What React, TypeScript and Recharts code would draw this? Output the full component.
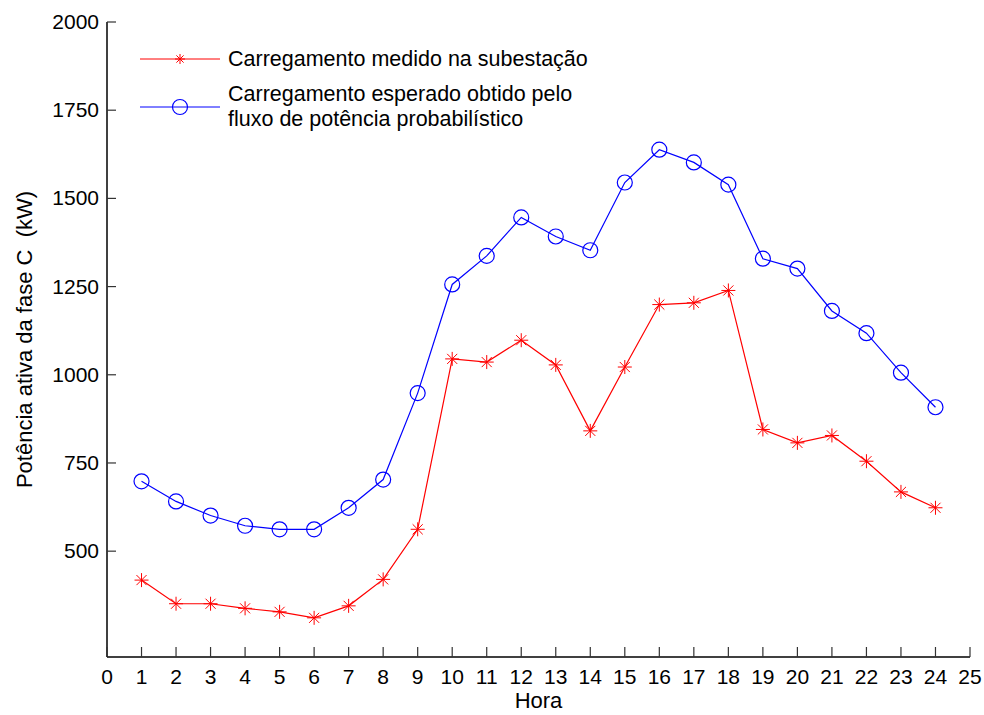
import React from "react";
import { LineChart, Line, XAxis, YAxis } from "recharts";

const horas = [1, 2, 3, 4, 5, 6, 7, 8, 9, 10, 11, 12, 13, 14, 15, 16, 17, 18, 19, 20, 21, 22, 23, 24];
const medido = [418, 351, 351, 338, 328, 311, 345, 420, 562, 1045, 1036, 1098, 1028, 841, 1022, 1199, 1204, 1239, 845, 807, 828, 755, 668, 623];
const esperado = [698, 641, 601, 572, 562, 562, 623, 703, 948, 1256, 1337, 1446, 1392, 1353, 1545, 1638, 1602, 1539, 1329, 1301, 1181, 1118, 1006, 908];
const xTicks = [0, 1, 2, 3, 4, 5, 6, 7, 8, 9, 10, 11, 12, 13, 14, 15, 16, 17, 18, 19, 20, 21, 22, 23, 24, 25];
const yTicks = [500, 750, 1000, 1250, 1500, 1750, 2000];

const labelMedido = "Carregamento medido na subestação";
const labelEsperado = ["Carregamento esperado obtido pelo", "fluxo de potência probabilístico"];

const data = horas.map((h, i) => ({ hora: h, medido: medido[i], esperado: esperado[i] }));

const FONT = "'Liberation Sans', Arial, sans-serif";
const RED = "#ff0000";
const BLUE = "#0000ff";

function Star({ cx, cy, size = 7 }: any) {
  if (cx == null || cy == null) return null;
  const d = size * 0.72;
  return (
    <g stroke={RED} strokeWidth={1}>
      <line x1={cx - size} y1={cy} x2={cx + size} y2={cy} />
      <line x1={cx} y1={cy - size} x2={cx} y2={cy + size} />
      <line x1={cx - d} y1={cy - d} x2={cx + d} y2={cy + d} />
      <line x1={cx - d} y1={cy + d} x2={cx + d} y2={cy - d} />
    </g>
  );
}

function Circle({ cx, cy }: any) {
  if (cx == null || cy == null) return null;
  return <circle cx={cx} cy={cy} r={7.5} fill="none" stroke={BLUE} strokeWidth={1.2} />;
}

// inward ticks, MATLAB style
function BottomTick({ x, y, payload }: any) {
  return (
    <g>
      <line x1={x} y1={y} x2={x} y2={y - 10} stroke="#333" strokeWidth={1.2} />
      <text x={x} y={y + 27} textAnchor="middle" fontSize={21} fontFamily={FONT} fill="#000">
        {payload.value}
      </text>
    </g>
  );
}

function TopTick({ x, y }: any) {
  return <line x1={x} y1={y} x2={x} y2={y + 10} stroke="#333" strokeWidth={1.2} />;
}

function LeftTick({ x, y, payload }: any) {
  return (
    <g>
      <line x1={x} y1={y} x2={x + 9} y2={y} stroke="#333" strokeWidth={1.2} />
      <text x={x - 8} y={y + 7} textAnchor="end" fontSize={21} fontFamily={FONT} fill="#000">
        {payload.value}
      </text>
    </g>
  );
}

function RightTick({ x, y }: any) {
  return <line x1={x} y1={y} x2={x - 9} y2={y} stroke="#333" strokeWidth={1.2} />;
}

function LegendBox() {
  const txt = { fontSize: 21.5, fontFamily: FONT, fill: "#000" };
  return (
    <svg width={520} height={95} style={{ display: "block" }}>
      <line x1={0} y1={15} x2={80} y2={15} stroke={RED} strokeWidth={1} />
      <Star cx={40} cy={15} size={5} />
      <text x={88} y={22} {...txt}>{labelMedido}</text>
      <line x1={0} y1={63} x2={80} y2={63} stroke={BLUE} strokeWidth={1} />
      <Circle cx={40} cy={63} />
      <text x={88} y={57} {...txt}>{labelEsperado[0]}</text>
      <text x={88} y={82} {...txt}>{labelEsperado[1]}</text>
    </svg>
  );
}

export default function App() {
  return (
    <div style={{ position: "absolute", left: 0, top: 0, width: 984, height: 715, background: "#fff" }}>
      <LineChart
        width={984}
        height={715}
        data={data}
        margin={{ top: 22, right: 14, bottom: 28, left: 47 }}
      >
        <XAxis
          dataKey="hora"
          type="number"
          domain={[0, 25]}
          ticks={xTicks}
          interval={0}
          height={30}
          tickSize={0}
          tickMargin={0}
          tickLine={false}
          axisLine={{ stroke: "#000", strokeWidth: 1.5 }}
          tick={<BottomTick />}
          label={{
            content: ({ viewBox }: any) => (
              <text
                x={viewBox.x + viewBox.width / 2}
                y={708}
                textAnchor="middle"
                fontSize={22}
                fontFamily={FONT}
                fill="#000"
              >
                Hora
              </text>
            ),
          }}
        />
        <XAxis
          xAxisId="top"
          orientation="top"
          dataKey="hora"
          type="number"
          domain={[0, 25]}
          ticks={xTicks}
          interval={0}
          height={0}
          tickSize={0}
          tickMargin={0}
          tickLine={false}
          axisLine={{ stroke: "#000", strokeWidth: 1.5 }}
          tick={<TopTick />}
        />
        <YAxis
          type="number"
          domain={[200, 2000]}
          ticks={yTicks}
          interval={0}
          width={60}
          tickSize={0}
          tickMargin={0}
          tickLine={false}
          axisLine={{ stroke: "#000", strokeWidth: 1.5 }}
          tick={<LeftTick />}
          label={{
            content: ({ viewBox }: any) => {
              const cy = viewBox.y + viewBox.height / 2;
              return (
                <text
                  x={32}
                  y={cy}
                  transform={`rotate(-90, 32, ${cy})`}
                  textAnchor="middle"
                  fontSize={22}
                  fontFamily={FONT}
                  fill="#000"
                >
                  {"Potência ativa da fase C\u00a0 (kW)"}
                </text>
              );
            },
          }}
        />
        <YAxis
          yAxisId="right"
          orientation="right"
          type="number"
          domain={[200, 2000]}
          ticks={yTicks}
          interval={0}
          width={0}
          tickSize={0}
          tickMargin={0}
          tickLine={false}
          axisLine={{ stroke: "#000", strokeWidth: 1.5 }}
          tick={<RightTick />}
        />
        <Line
          type="linear"
          dataKey="medido"
          name={labelMedido}
          stroke={RED}
          strokeWidth={1.2}
          dot={<Star size={7} />}
          activeDot={false}
          isAnimationActive={false}
        />
        <Line
          type="linear"
          dataKey="esperado"
          name={labelEsperado.join(" ")}
          stroke={BLUE}
          strokeWidth={1.2}
          dot={<Circle />}
          activeDot={false}
          isAnimationActive={false}
        />
      </LineChart>
      <div style={{ position: "absolute", left: 140, top: 44 }}>
        <LegendBox />
      </div>
    </div>
  );
}
